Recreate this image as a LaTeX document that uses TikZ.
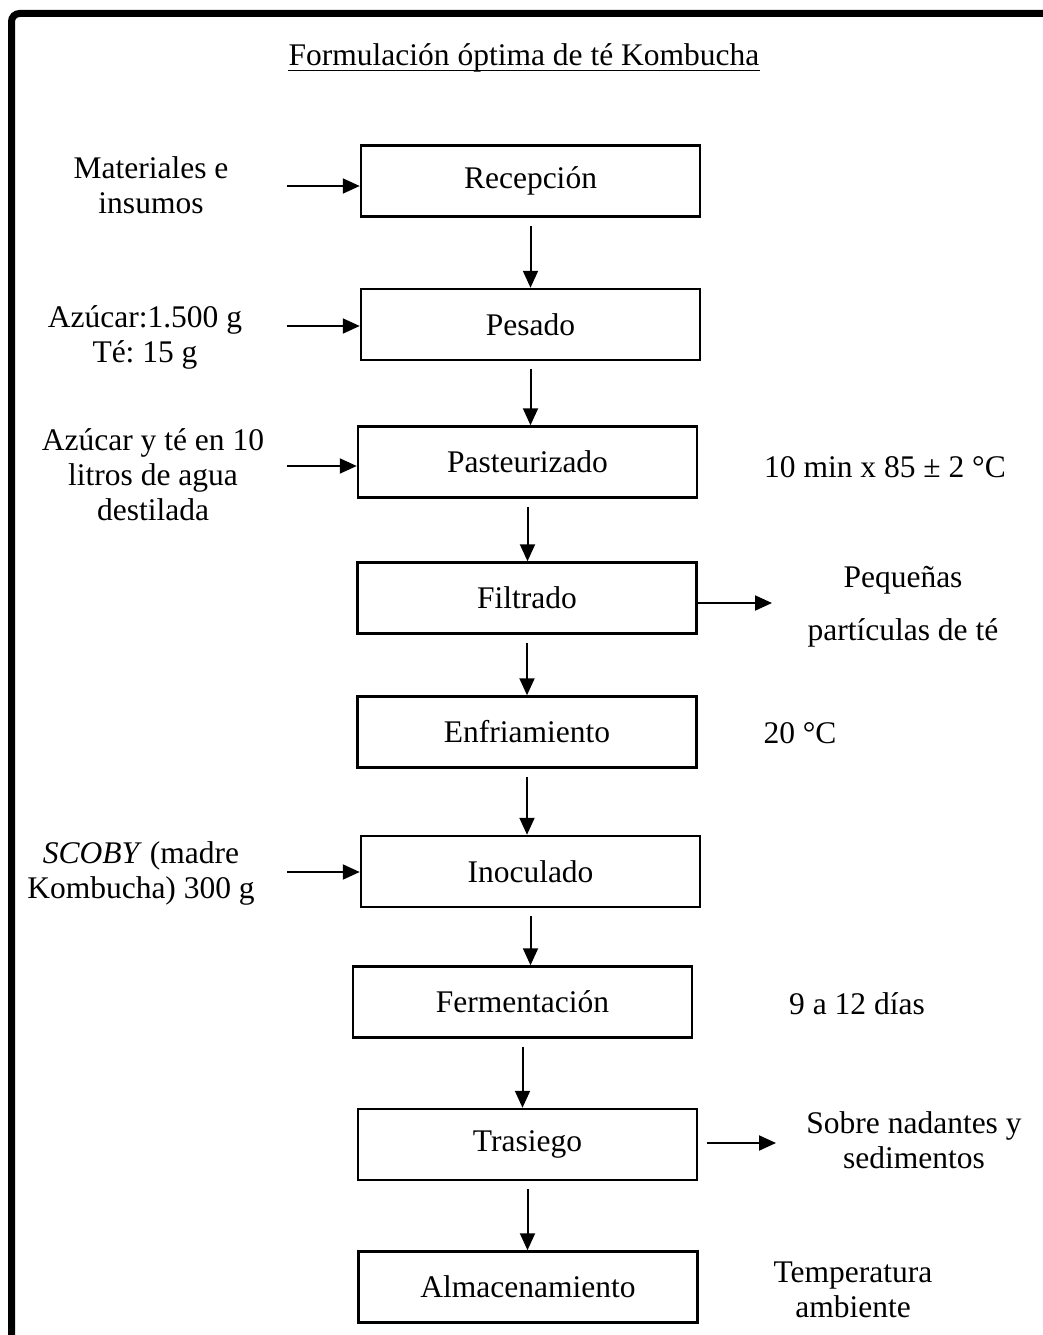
\documentclass[tikz,border=0pt]{standalone}
\usepackage{fontspec}
\setmainfont{Liberation Serif}
\usetikzlibrary{arrows.meta,positioning}
\tikzset{every picture/.style={line width=0.75pt}}
\frenchspacing

\begin{document}
\begin{tikzpicture}[x=1pt,y=-1pt,
    every node/.style={font=\fontsize{31.5}{35}\selectfont},
    paso/.style={draw,line width=2.5pt,minimum width=339pt,minimum height=71pt,inner sep=0pt},
    nota/.style={align=center,inner sep=0pt},
    flecha/.style={-{Triangle[length=17pt,width=15pt]},line width=2pt}]
    \useasboundingbox (0,0) rectangle (1042,1335);
    % marco
    \draw[line width=7pt,rounded corners=8pt] (11.5,1345) -- (11.5,13.5) -- (1050,13.5);
    % titulo
    \node[inner sep=0pt] (titulo) at (524,58) {Formulación óptima de té Kombucha};
    \draw[line width=1.8pt] ([yshift=-5pt]titulo.base west) -- ([yshift=-5pt]titulo.base east);
    % etapas
    \node[paso] (rec)  at (530.5,181)  {Recepción};
    \node[paso] (pes)  at (530.5,324.5) {Pesado};
    \node[paso] (past) at (527.5,462)  {Pasteurizado};
    \node[paso] (filt) at (527,598)    {Filtrado};
    \node[paso] (enf)  at (527,732)    {Enfriamiento};
    \node[paso] (ino)  at (530.5,871.5) {Inoculado};
    \node[paso] (ferm) at (522.5,1002) {Fermentación};
    \node[paso] (tras) at (527.5,1144.5) {Trasiego};
    \node[paso] (alm)  at (528,1287)   {Almacenamiento};
    % flujo principal
    \draw[flecha] ([yshift=-8pt]rec.south) -- (rec.south |- pes.north);
    \draw[flecha] ([yshift=-8pt]pes.south) -- (pes.south |- past.north);
    \draw[flecha] ([yshift=-8pt]past.south) -- (past.south |- filt.north);
    \draw[flecha] ([yshift=-8pt]filt.south) -- (filt.south |- enf.north);
    \draw[flecha] ([yshift=-8pt]enf.south) -- (enf.south |- ino.north);
    \draw[flecha] ([yshift=-8pt]ino.south) -- (ino.south |- ferm.north);
    \draw[flecha] ([yshift=-8pt]ferm.south) -- (ferm.south |- tras.north);
    \draw[flecha] ([yshift=-8pt]tras.south) -- (tras.south |- alm.north);
    % entradas
    \node[nota] (m1) at (151,185) {Materiales e\\insumos};
    \node[nota] (m2) at (145,337) {Azúcar:1.500 g\\Té: 15 g};
    \node[nota] (m3) at (153,475) {Azúcar y té en 10\\litros de agua\\destilada};
    \node[nota] (m4) at (141,873) {\textit{SCOBY} (madre\\Kombucha) 300 g};
    \coordinate (e1) at (287,186);
    \coordinate (e2) at (287,326);
    \coordinate (e3) at (287,466);
    \coordinate (e4) at (287,872);
    \draw[flecha] (e1) -- (e1 -| rec.west);
    \draw[flecha] (e2) -- (e2 -| pes.west);
    \draw[flecha] (e3) -- (e3 -| past.west);
    \draw[flecha] (e4) -- (e4 -| ino.west);
    % salidas
    \coordinate (s1) at (772,603);
    \coordinate (s2) at (776,1143);
    \draw[flecha] (s1 -| filt.east) -- (s1);
    \draw[flecha] ([xshift=9pt]s2 -| tras.east) -- (s2);
    \node[nota] (r1) at (903,607) {Pequeñas\\[18pt]partículas de té};
    \node[nota] (r2) at (914,1140) {Sobre nadantes y\\sedimentos};
    % condiciones
    \node (c1) at (885,467) {10 min x 85 ± 2 °C};
    \node (c2) at (800,733) {20 °C};
    \node (c3) at (857,1004) {9 a 12 días};
    \node[nota] (c4) at (853,1290) {Temperatura\\ambiente};
\end{tikzpicture}
\end{document}
